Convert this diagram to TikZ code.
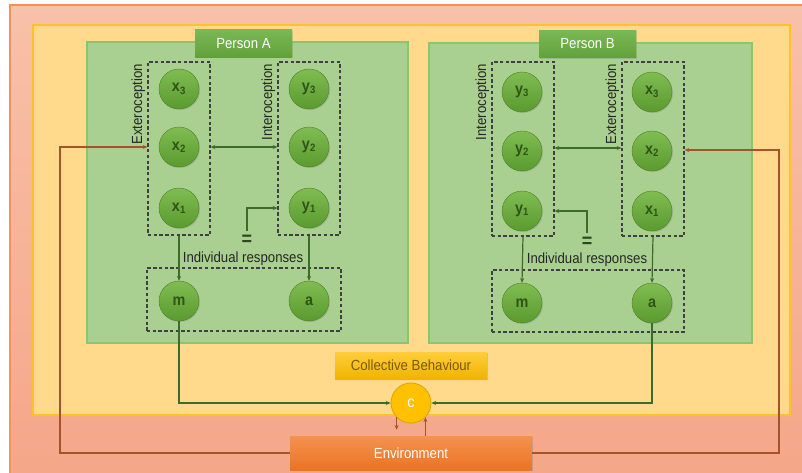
\documentclass[tikz,border=0pt]{standalone}
\usepackage{fontspec}
\setmainfont{Liberation Sans}[FakeStretch=0.9]
\usetikzlibrary{arrows.meta,shadows}
\definecolor{salmonTop}{HTML}{F8C1A9}
\definecolor{salmonBot}{HTML}{F5A688}
\definecolor{salmonLine}{HTML}{F0935F}
\definecolor{yellowFill}{HTML}{FFD98C}
\definecolor{yellowLine}{HTML}{FFC229}
\definecolor{panelFill}{HTML}{AAD091}
\definecolor{panelLine}{HTML}{8FC46F}
\definecolor{ballTop}{HTML}{80BC52}
\definecolor{ballBot}{HTML}{5A9A2F}
\definecolor{ballText}{HTML}{2E5516}
\definecolor{arrowGreen}{HTML}{3E6A2A}
\definecolor{arrowBrown}{HTML}{A4532A}
\definecolor{labelTop}{HTML}{7AB856}
\definecolor{labelBot}{HTML}{62A13A}
\definecolor{goldTop}{HTML}{FFCD3A}
\definecolor{goldBot}{HTML}{F0B400}
\definecolor{goldText}{HTML}{7A5C00}
\definecolor{cFill}{HTML}{FFC000}
\definecolor{cLine}{HTML}{D9A500}
\definecolor{envTop}{HTML}{F4924E}
\definecolor{envBot}{HTML}{EA7424}
\begin{document}
\begin{tikzpicture}[x=0.75pt,y=-0.75pt,
  ball/.style={circle, minimum size=30pt, inner sep=0pt, top color=ballTop, bottom color=ballBot,
    draw=ballBot!85!black, line width=0.3pt, text=ballText, font=\fontsize{12}{14}\bfseries,
    drop shadow={opacity=0.3, shadow xshift=0.8pt, shadow yshift=-0.8pt}},
  dashbox/.style={draw=black!75, dash pattern=on 2.5pt off 1.8pt, line width=0.8pt, inner sep=0pt},
  sense/.style={rotate=90, anchor=south east, inner sep=1.5pt, text=black!85, font=\fontsize{11}{13}\selectfont},
  personbox/.style={minimum width=72.75pt, minimum height=20.5pt, inner sep=0pt, top color=labelTop,
    bottom color=labelBot, text=white, font=\fontsize{11}{13}\selectfont,
    drop shadow={opacity=0.3, shadow xshift=0.8pt, shadow yshift=-0.8pt}},
  equal/.style={inner sep=0pt, text=arrowGreen!70!black, font=\fontsize{15}{15}\bfseries},
  response/.style={inner sep=0pt, text=black!85, font=\fontsize{11}{13}\selectfont},
  greenarrow/.style={draw=arrowGreen, line width=0.9pt, -{Stealth[length=3.5pt,width=3pt]}},
  brownarrow/.style={draw=arrowBrown, line width=1.1pt, -{Stealth[length=3.5pt,width=3pt]}},
]
  \useasboundingbox (0,0) rectangle (802,472);
  % background layers
  \draw[top color=salmonTop, bottom color=salmonBot, draw=salmonLine, line width=1pt] (10,5) rectangle (812,482);
  \draw[fill=yellowFill, draw=yellowLine, line width=1pt] (33,25) rectangle (790,415);
  \draw[fill=panelFill, draw=panelLine, line width=0.8pt] (87,42) rectangle (408,343);
  \draw[fill=panelFill, draw=panelLine, line width=0.8pt] (429,43) rectangle (752,343);

  % person A
  \node[personbox] (personA) at (243.5,43.5) {Person A};
  \node[dashbox, minimum width=46.5pt, minimum height=129.75pt] (extA) at (179,148.5) {};
  \node[dashbox, minimum width=46.5pt, minimum height=129.75pt] (intA) at (309,148.5) {};
  \node[dashbox, minimum width=145.5pt, minimum height=47.25pt] (respA) at (244,299.5) {};
  \node[sense] (extlabA) at (extA.north west) {Exteroception};
  \node[sense] (intlabA) at (intA.north west) {Interoception};
  \node[ball] (x3A) at (179,89) {x\textsubscript{3}};
  \node[ball] (x2A) at (179,147) {x\textsubscript{2}};
  \node[ball] (x1A) at (179,208) {x\textsubscript{1}};
  \node[ball] (y3A) at (309,89) {y\textsubscript{3}};
  \node[ball] (y2A) at (309,147) {y\textsubscript{2}};
  \node[ball] (y1A) at (309,208) {y\textsubscript{1}};
  \node[ball] (mA) at (179,301) {m};
  \node[ball] (aA) at (309,301) {a};
  \node[equal] (eqA) at (247,240) {=};
  \node[response] (indA) at (243,259) {Individual responses};
  \draw[greenarrow, {Stealth[length=3.5pt,width=3pt]}-{Stealth[length=3.5pt,width=3pt]}] (extA.east |- x2A) -- (intA.west |- x2A);
  \draw[greenarrow, shorten <=3pt] (eqA.north) |- (intA.west |- y1A);
  \draw[greenarrow] (extA.south) -- (mA.north);
  \draw[greenarrow] (intA.south) -- (aA.north);

  % person B
  \node[personbox] (personB) at (587.5,44) {Person B};
  \node[dashbox, minimum width=46.5pt, minimum height=130.5pt] (intB) at (523,149) {};
  \node[dashbox, minimum width=46.5pt, minimum height=130.5pt] (extB) at (653,149) {};
  \node[dashbox, minimum width=144pt, minimum height=46.5pt] (respB) at (588,301) {};
  \node[sense] (intlabB) at (intB.north west) {Interoception};
  \node[sense] (extlabB) at (extB.north west) {Exteroception};
  \node[ball] (y3B) at (522,92) {y\textsubscript{3}};
  \node[ball] (y2B) at (522,151) {y\textsubscript{2}};
  \node[ball] (y1B) at (522,211) {y\textsubscript{1}};
  \node[ball] (x3B) at (652,92) {x\textsubscript{3}};
  \node[ball] (x2B) at (652,151) {x\textsubscript{2}};
  \node[ball] (x1B) at (652,211) {x\textsubscript{1}};
  \node[ball] (mB) at (522,303) {m};
  \node[ball] (aB) at (652,303) {a};
  \node[equal] (eqB) at (587,242) {=};
  \node[response] (indB) at (587,260) {Individual responses};
  \draw[greenarrow, {Stealth[length=3.5pt,width=3pt]}-{Stealth[length=3.5pt,width=3pt]}] (intB.east |- 0,148) -- (extB.west |- 0,148);
  \draw[greenarrow, shorten <=3pt] (eqB.north) |- (intB.east |- y1B);
  \draw[greenarrow] (intB.south) -- (mB.north);
  \draw[greenarrow] (extB.south) -- (aB.north);

  % collective behaviour and environment
  \node[minimum width=114pt, minimum height=20.25pt, inner sep=0pt, top color=goldTop, bottom color=goldBot,
    text=goldText, font=\fontsize{11}{13}\selectfont,
    drop shadow={opacity=0.3, shadow xshift=0.8pt, shadow yshift=-0.8pt}] (collective) at (411,365.5) {Collective Behaviour};
  \node[circle, minimum size=30pt, inner sep=0pt, fill=cFill, draw=cLine, line width=0.6pt, text=white,
    font=\fontsize{12}{14}\selectfont] (c) at (411,403) {c};
  \node[minimum width=181.5pt, minimum height=25.5pt, inner sep=0pt, top color=envTop, bottom color=envBot,
    text=white, font=\fontsize{11}{13}\selectfont,
    drop shadow={opacity=0.3, shadow xshift=0.8pt, shadow yshift=-0.8pt}] (env) at (411,453) {Environment};
  \coordinate (loopL) at (60,147);
  \coordinate (loopR) at (779,150);
  \draw[greenarrow] (mA.south) |- (c.west);
  \draw[greenarrow] (aB.south) |- (c.east);
  \draw[brownarrow, shorten >=4.5pt] (c.-135) -- (c.-135 |- env.north);
  \draw[brownarrow] (env.north -| c.-45) -- (c.-45);
  \draw[brownarrow] (env.west) -| (loopL) -- (extA.west |- loopL);
  \draw[brownarrow] (env.east) -| (loopR) -- (extB.east |- loopR);
\end{tikzpicture}
\end{document}
